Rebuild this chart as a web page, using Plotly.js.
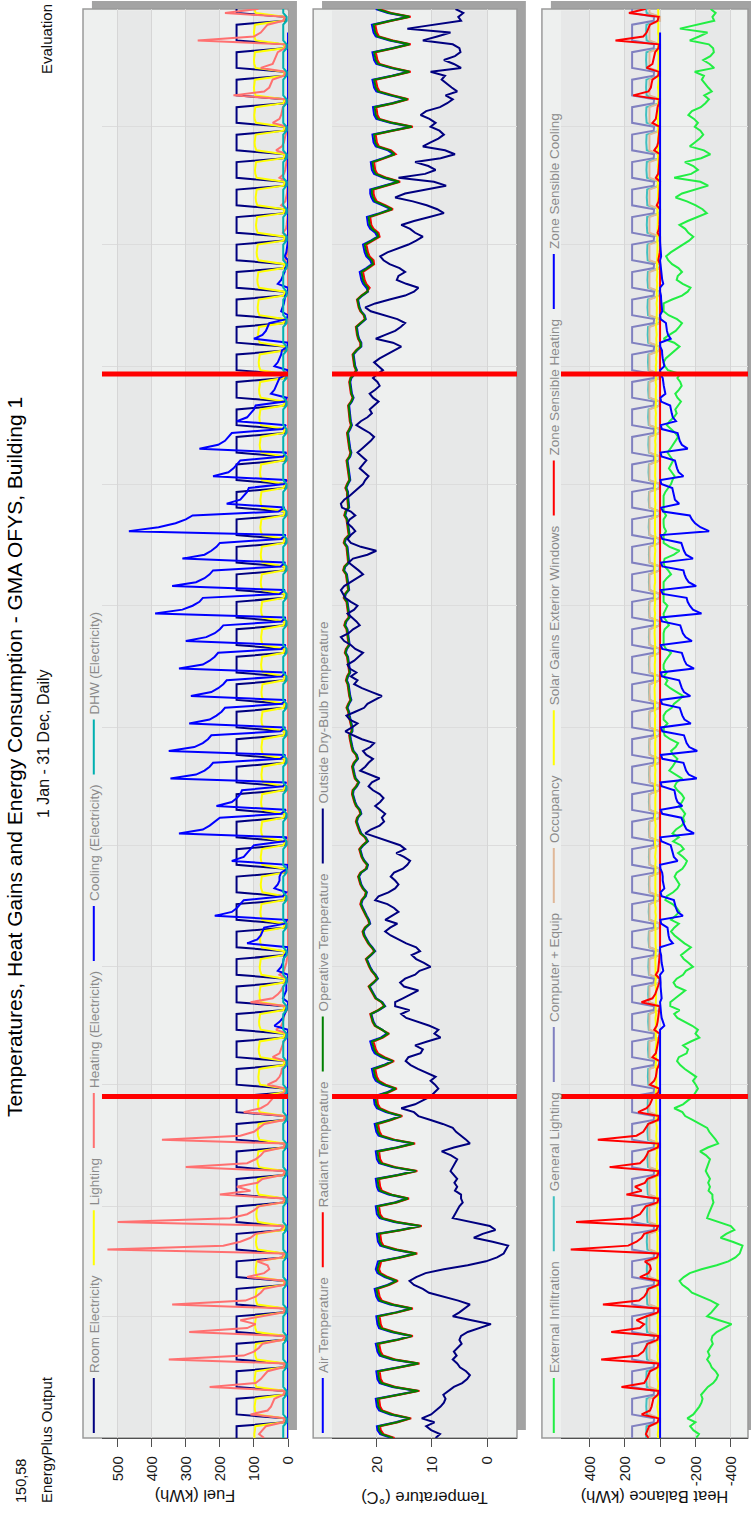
<!DOCTYPE html>
<html><head><meta charset="utf-8">
<script src="https://cdn.plot.ly/plotly-3.0.1.min.js"></script>
<style>
html,body{margin:0;padding:0;background:#fff;width:751px;height:1514px;overflow:hidden;}
#chart{position:absolute;left:0;top:0;width:1514px;height:751px;transform-origin:0 0;transform:translateY(1514px) rotate(-90deg);}
</style></head><body><div id="chart"></div>
<script>
const startDate='2002-01-01', endDate='2002-12-31', dayMs=86400000;
const markerDates=['2002-03-29','2002-09-29'];
const fuelTicks=[0,100,200,300,400,500];
const tempTicks=[0,10,20];
const heatTickVals=[-400,-200,0,200,400];
const heatTickText=['-400','-200','0','200','400'];

const roomElec=[151,151,151,151,10,10,
151,151,151,151,151,10,10,151,151,151,151,151,10,10,151,151,151,151,151,10,10,151,151,151,151,151,10,10,
151,151,151,151,151,10,10,151,151,151,151,151,10,10,151,151,151,151,151,10,10,151,151,151,151,151,10,10,
151,151,151,151,151,10,10,151,151,151,151,151,10,10,151,151,151,151,151,10,10,151,151,151,151,151,10,10,
151,151,151,151,151,10,10,151,151,151,151,151,10,10,151,151,151,151,151,10,10,151,151,151,151,151,10,10,
151,151,151,151,151,10,10,151,151,151,151,151,10,10,151,151,151,151,151,10,10,151,151,151,151,151,10,10,
151,151,151,151,151,10,10,151,151,151,151,151,10,10,151,151,151,151,151,10,10,151,151,151,151,151,10,10,
151,151,151,151,151,10,10,151,151,151,151,151,10,10,151,151,151,151,151,10,10,151,151,151,151,151,10,10,
151,151,151,151,151,10,10,151,151,151,151,151,10,10,151,151,151,151,151,10,10,151,151,151,151,151,10,10,
151,151,151,151,151,10,10,151,151,151,151,151,10,10,151,151,151,151,151,10,10,151,151,151,151,151,10,10,
151,151,151,151,151,10,10,151,151,151,151,151,10,10,151,151,151,151,151,10,10,151,151,151,151,151,10,10,
151,151,151,151,151,10,10,151,151,151,151,151,10,10,151,151,151,151,151,10,10,151,151,151,151,151,10,10,
151,151,151,151,151,10,10,151,151,151,151,151,10,10,151,151,151,151,151,10,10,151,151,151,151,151,10,10,
151,151,151,151,151,10,10,151,151,151,151,151,10,10,151,151,151,151,151,10,10,
151,151];
const lighting=[98,99,97,96,13,10,
93,97,98,96,95,13,10,93,97,98,96,95,13,10,92,96,97,95,94,13,10,92,96,97,95,94,13,10,
90,94,95,93,92,13,10,90,94,95,93,92,13,10,89,93,94,92,91,13,10,88,92,93,91,90,13,10,
86,90,91,89,88,13,10,85,89,90,88,87,13,10,84,88,89,87,86,13,10,83,87,88,86,85,13,10,
82,86,87,85,84,13,10,81,85,86,84,83,13,10,80,84,85,83,82,13,10,79,83,84,82,81,13,10,
78,82,83,81,80,13,10,77,81,82,80,79,13,10,76,80,81,79,78,13,10,75,79,80,78,77,13,10,
75,79,80,78,77,13,10,74,78,79,77,76,13,10,74,78,79,77,76,13,10,73,77,78,76,75,13,10,
73,77,78,76,75,13,10,73,77,78,76,75,13,10,73,77,78,76,75,13,10,74,78,79,77,76,13,10,
74,78,79,77,76,13,10,74,78,79,77,76,13,10,75,79,80,78,77,13,10,75,79,80,78,77,13,10,
76,80,81,79,78,13,10,76,80,81,79,78,13,10,77,81,82,80,79,13,10,78,82,83,81,80,13,10,
79,83,84,82,81,13,10,80,84,85,83,82,13,10,81,85,86,84,83,13,10,83,87,88,86,85,13,10,
84,88,89,87,86,13,10,85,89,90,88,87,13,10,87,91,92,90,89,13,10,89,93,94,92,91,13,10,
90,94,95,93,92,13,10,92,96,97,95,94,13,10,93,97,98,96,95,13,10,94,98,99,97,96,13,10,
95,99,100,98,97,13,10,95,99,100,98,97,13,10,95,99,100,98,97,13,10,
95,99];
const heating=[70,85,75,65,15,8,
110,60,50,45,40,14,8,230,95,80,70,60,15,9,350,130,100,85,75,16,9,290,120,95,140,80,14,8,
340,125,95,80,70,12,6,120,70,55,60,90,18,10,530,190,140,110,95,22,12,500,170,120,100,85,16,9,
200,110,150,90,75,15,8,300,120,95,80,70,14,8,370,140,100,85,70,13,7,130,80,60,50,40,10,6,
60,35,25,20,18,6,3,45,25,20,15,12,4,2,35,20,15,12,10,3,2,110,45,30,20,15,4,2,
25,12,8,5,3,0,0,0,0,0,0,0,0,0,0,0,0,0,0,0,0,0,0,0,0,0,0,0,0,0,0,0,0,0,0,
0,0,0,0,0,0,0,0,0,0,0,0,0,0,0,0,0,0,0,0,0,0,0,0,0,0,0,0,0,0,0,0,0,0,0,
0,0,0,0,0,0,0,0,0,0,0,0,0,0,0,0,0,0,0,0,0,0,0,0,0,0,0,0,0,0,0,0,0,0,0,
0,0,0,0,0,0,0,0,0,0,0,0,0,0,0,0,0,0,0,0,0,0,0,0,0,0,0,0,0,0,0,0,0,0,0,
0,0,0,0,0,0,0,0,0,0,0,0,0,0,0,0,0,0,0,0,0,0,0,0,0,0,0,0,0,0,0,0,0,0,0,
0,0,0,0,0,0,0,10,4,2,0,0,0,0,15,6,4,2,0,0,0,20,8,5,3,2,0,0,
25,12,8,6,5,2,1,35,18,12,10,8,4,2,45,25,20,18,15,6,3,160,70,55,50,45,12,6,
80,45,40,35,30,10,5,265,100,80,70,60,15,8,185,90,70,65,55,14,8,275,105,85,75,65,16,9,
260,100,85,75,65,15,9,245,95,80,70,60,15,9,
200,85];
const cooling=[0,0,0,0,0,0,
0,0,0,0,0,0,0,0,0,0,0,0,0,0,0,0,0,0,0,0,0,0,0,0,0,0,0,0,0,
0,0,0,0,0,0,0,0,0,0,0,0,0,0,0,0,0,0,0,0,0,0,0,0,0,0,0,0,0,0,0,0,0,0,0,
0,0,0,0,0,0,0,0,0,0,0,0,0,0,0,0,0,0,0,0,0,0,0,0,0,0,0,0,0,0,0,0,0,0,0,
40,25,15,10,5,0,0,15,10,5,5,5,0,0,30,20,15,12,10,0,0,120,90,80,75,70,10,3,
215,165,150,140,130,15,5,40,30,25,25,20,3,0,165,130,120,110,100,12,4,320,250,230,215,200,20,6,
210,165,150,140,135,15,5,345,270,245,230,220,22,8,350,275,250,235,225,22,8,290,230,210,195,185,18,7,
285,225,205,190,180,18,7,320,250,230,215,205,20,7,300,240,215,200,190,19,7,390,310,280,260,250,25,9,
340,270,245,230,220,22,8,310,245,225,210,200,20,7,467,380,330,300,280,28,10,180,140,130,120,115,12,4,
220,175,160,150,140,14,5,260,205,185,175,165,16,6,150,120,110,100,95,10,4,50,40,35,30,25,3,0,
40,30,25,20,18,2,0,100,75,65,60,55,5,0,20,15,12,10,8,0,0,30,20,15,10,8,0,0,
10,5,3,2,0,0,0,0,0,0,0,0,0,0,0,0,0,0,0,0,0,0,0,0,0,0,0,0,0,0,0,0,0,0,0,
0,0,0,0,0,0,0,0,0,0,0,0,0,0,0,0,0,0,0,0,0,
0,0];
const dhw=[14,14,14,14,4,4,
14,14,14,14,14,4,4,14,14,14,14,14,4,4,14,14,14,14,14,4,4,14,14,14,14,14,4,4,
14,14,14,14,14,4,4,14,14,14,14,14,4,4,14,14,14,14,14,4,4,14,14,14,14,14,4,4,
14,14,14,14,14,4,4,14,14,14,14,14,4,4,14,14,14,14,14,4,4,14,14,14,14,14,4,4,
14,14,14,14,14,4,4,14,14,14,14,14,4,4,14,14,14,14,14,4,4,14,14,14,14,14,4,4,
14,14,14,14,14,4,4,14,14,14,14,14,4,4,14,14,14,14,14,4,4,14,14,14,14,14,4,4,
14,14,14,14,14,4,4,14,14,14,14,14,4,4,14,14,14,14,14,4,4,14,14,14,14,14,4,4,
14,14,14,14,14,4,4,14,14,14,14,14,4,4,14,14,14,14,14,4,4,14,14,14,14,14,4,4,
14,14,14,14,14,4,4,14,14,14,14,14,4,4,14,14,14,14,14,4,4,14,14,14,14,14,4,4,
14,14,14,14,14,4,4,14,14,14,14,14,4,4,14,14,14,14,14,4,4,14,14,14,14,14,4,4,
14,14,14,14,14,4,4,14,14,14,14,14,4,4,14,14,14,14,14,4,4,14,14,14,14,14,4,4,
14,14,14,14,14,4,4,14,14,14,14,14,4,4,14,14,14,14,14,4,4,14,14,14,14,14,4,4,
14,14,14,14,14,4,4,14,14,14,14,14,4,4,14,14,14,14,14,4,4,14,14,14,14,14,4,4,
14,14,14,14,14,4,4,14,14,14,14,14,4,4,14,14,14,14,14,4,4,
14,14];

const airTemp=[17.3,19.3,19.8,19.9,16.5,14.1,
17.5,19.5,19.9,20.0,20.1,16.2,12.6,17.1,19.4,19.8,19.9,20.0,16.0,12.6,17.2,19.4,19.8,20.0,20.1,16.4,13.8,17.3,19.5,19.8,19.9,20.0,16.5,13.8,
17.5,19.6,20.0,20.2,20.3,18.0,16.5,18.5,19.8,20.1,19.9,19.7,16.0,13.0,16.9,19.3,19.7,19.8,19.9,15.7,12.2,16.8,19.4,19.9,20.0,20.1,16.7,14.5,
17.8,19.6,19.9,20.0,20.1,16.2,13.0,17.1,19.5,19.9,20.0,20.1,16.4,13.4,17.3,19.6,20.0,20.2,20.3,17.7,15.7,18.3,19.9,20.3,20.4,20.5,18.2,16.7,
18.9,20.1,20.5,20.7,20.8,18.7,17.2,19.1,20.3,20.7,20.9,21.1,19.2,18.1,18.9,20.1,20.5,20.7,20.9,19.5,18.4,18.9,20.0,20.4,20.8,21.2,20.4,19.7,
20.1,20.7,21.1,21.4,21.7,20.9,20.2,20.7,21.3,21.7,22.1,22.3,21.9,21.1,21.3,21.7,22.1,22.4,22.7,22.5,21.9,21.7,22.3,22.7,22.9,23.1,22.7,21.7,
21.5,22.1,22.5,22.7,22.9,22.3,21.5,21.9,22.7,23.0,23.3,23.5,23.3,22.7,22.9,23.5,23.8,24.0,24.2,24.1,23.5,23.1,23.7,23.9,24.1,24.2,23.9,23.3,
23.5,24.1,24.3,24.5,24.6,24.7,24.3,24.3,24.5,24.7,24.8,24.9,25.2,24.9,24.5,24.7,24.8,24.9,25.0,25.3,25.1,24.7,24.8,24.9,25.0,25.1,25.5,25.3,
24.8,24.9,25.0,25.1,25.2,25.6,25.4,24.8,24.9,25.0,25.1,25.2,25.7,25.5,24.9,25.0,25.1,25.2,25.3,25.8,25.6,24.9,25.0,25.1,25.1,25.2,25.7,25.5,
24.8,24.9,25.0,25.1,25.2,25.6,25.4,24.9,25.0,25.0,25.1,25.1,25.4,25.1,24.7,24.8,24.9,24.9,25.0,25.2,24.7,24.5,24.7,24.8,24.9,24.9,25.1,24.7,
24.4,24.6,24.7,24.8,24.9,24.9,24.4,24.1,24.4,24.5,24.6,24.7,24.5,23.9,23.5,23.8,23.9,24.0,24.1,23.5,22.7,22.7,23.1,23.3,23.4,23.5,22.7,21.9,
22.1,22.7,23.0,23.2,23.3,22.5,21.5,21.8,22.4,22.7,22.9,23.0,21.8,20.8,21.1,21.8,22.1,22.3,22.4,21.0,19.8,20.2,21.1,21.5,21.6,21.7,19.4,17.4,
18.9,20.5,20.9,21.1,21.1,18.4,16.1,18.7,20.4,20.8,20.9,21.0,18.8,16.9,17.9,20.1,20.5,20.6,20.7,17.4,13.8,17.5,20.0,20.4,20.5,20.6,17.2,14.6,
17.5,20.0,20.4,20.6,20.7,17.2,14.2,17.5,20.0,20.4,20.6,20.7,17.2,14.2,17.6,20.1,20.5,20.7,20.8,17.6,14.2,
17.9,20.1];
const radTemp=[16.7,18.7,19.2,19.3,16.1,13.7,
16.9,18.9,19.3,19.4,19.5,15.8,12.2,16.5,18.8,19.2,19.3,19.4,15.6,12.2,16.6,18.8,19.2,19.4,19.5,16.0,13.4,16.7,18.9,19.2,19.3,19.4,16.1,13.4,
16.9,19.0,19.4,19.6,19.7,17.6,16.1,17.9,19.2,19.5,19.3,19.1,15.6,12.6,16.3,18.7,19.1,19.2,19.3,15.3,11.8,16.2,18.8,19.3,19.4,19.5,16.3,14.1,
17.2,19.0,19.3,19.4,19.5,15.8,12.6,16.5,18.9,19.3,19.4,19.5,16.0,13.0,16.7,19.0,19.4,19.6,19.7,17.3,15.3,17.7,19.3,19.7,19.8,19.9,17.8,16.3,
18.3,19.5,19.9,20.1,20.2,18.3,16.8,18.5,19.7,20.1,20.3,20.5,18.8,17.7,19.1,20.3,20.7,20.9,21.1,19.7,18.6,19.1,20.2,20.6,21.0,21.4,20.6,19.9,
20.3,20.9,21.3,21.6,21.9,21.1,20.4,20.9,21.5,21.9,22.3,22.5,22.1,21.3,21.5,21.9,22.3,22.6,22.9,22.7,22.1,21.9,22.5,22.9,23.1,23.3,22.9,21.9,
21.7,22.3,22.7,22.9,23.1,22.5,21.7,22.1,22.9,23.2,23.5,23.7,23.5,22.9,23.1,23.7,24.0,24.2,24.4,24.3,23.7,23.3,23.9,24.1,24.3,24.4,24.1,23.5,
23.7,24.3,24.5,24.7,24.8,24.9,24.5,24.5,24.7,24.9,25.0,25.1,25.4,25.1,24.7,24.9,25.0,25.1,25.2,25.5,25.3,24.9,25.0,25.1,25.2,25.3,25.7,25.5,
25.0,25.1,25.2,25.3,25.4,25.8,25.6,25.0,25.1,25.2,25.3,25.4,25.9,25.7,25.1,25.2,25.3,25.4,25.5,26.0,25.8,25.1,25.2,25.3,25.3,25.4,25.9,25.7,
25.0,25.1,25.2,25.3,25.4,25.8,25.6,25.1,25.2,25.2,25.3,25.3,25.6,25.3,24.9,25.0,25.1,25.1,25.2,25.4,24.9,24.7,24.9,25.0,25.1,25.1,25.3,24.9,
24.6,24.8,24.9,25.0,25.1,25.1,24.6,24.3,24.6,24.7,24.8,24.9,24.7,24.1,23.7,24.0,24.1,24.2,24.3,23.7,22.9,22.9,23.3,23.5,23.6,23.7,22.9,22.1,
22.3,22.9,23.2,23.4,23.5,22.7,21.7,21.2,21.8,22.1,22.3,22.4,21.4,20.4,20.5,21.2,21.5,21.7,21.8,20.6,19.4,19.6,20.5,20.9,21.0,21.1,19.0,17.0,
18.3,19.9,20.3,20.5,20.5,18.0,15.7,18.1,19.8,20.2,20.3,20.4,18.4,16.5,17.3,19.5,19.9,20.0,20.1,17.0,13.4,16.9,19.4,19.8,19.9,20.0,16.8,14.2,
16.9,19.4,19.8,20.0,20.1,16.8,13.8,16.9,19.4,19.8,20.0,20.1,16.8,13.8,17.0,19.5,19.9,20.1,20.2,17.2,13.8,
17.3,19.5];
const opTemp=[17.0,19.0,19.5,19.6,16.3,13.9,
17.2,19.2,19.6,19.7,19.8,16.0,12.4,16.8,19.1,19.5,19.6,19.7,15.8,12.4,16.9,19.1,19.5,19.7,19.8,16.2,13.6,17.0,19.2,19.5,19.6,19.7,16.3,13.6,
17.2,19.3,19.7,19.9,20.0,17.8,16.3,18.2,19.5,19.8,19.6,19.4,15.8,12.8,16.6,19.0,19.4,19.5,19.6,15.5,12.0,16.5,19.1,19.6,19.7,19.8,16.5,14.3,
17.5,19.3,19.6,19.7,19.8,16.0,12.8,16.8,19.2,19.6,19.7,19.8,16.2,13.2,17.0,19.3,19.7,19.9,20.0,17.5,15.5,18.0,19.6,20.0,20.1,20.2,18.0,16.5,
18.6,19.8,20.2,20.4,20.5,18.5,17.0,18.8,20.0,20.4,20.6,20.8,19.0,17.9,19.0,20.2,20.6,20.8,21.0,19.6,18.5,19.0,20.1,20.5,20.9,21.3,20.5,19.8,
20.2,20.8,21.2,21.5,21.8,21.0,20.3,20.8,21.4,21.8,22.2,22.4,22.0,21.2,21.4,21.8,22.2,22.5,22.8,22.6,22.0,21.8,22.4,22.8,23.0,23.2,22.8,21.8,
21.6,22.2,22.6,22.8,23.0,22.4,21.6,22.0,22.8,23.1,23.4,23.6,23.4,22.8,23.0,23.6,23.9,24.1,24.3,24.2,23.6,23.2,23.8,24.0,24.2,24.3,24.0,23.4,
23.6,24.2,24.4,24.6,24.7,24.8,24.4,24.4,24.6,24.8,24.9,25.0,25.3,25.0,24.6,24.8,24.9,25.0,25.1,25.4,25.2,24.8,24.9,25.0,25.1,25.2,25.6,25.4,
24.9,25.0,25.1,25.2,25.3,25.7,25.5,24.9,25.0,25.1,25.2,25.3,25.8,25.6,25.0,25.1,25.2,25.3,25.4,25.9,25.7,25.0,25.1,25.2,25.2,25.3,25.8,25.6,
24.9,25.0,25.1,25.2,25.3,25.7,25.5,25.0,25.1,25.1,25.2,25.2,25.5,25.2,24.8,24.9,25.0,25.0,25.1,25.3,24.8,24.6,24.8,24.9,25.0,25.0,25.2,24.8,
24.5,24.7,24.8,24.9,25.0,25.0,24.5,24.2,24.5,24.6,24.7,24.8,24.6,24.0,23.6,23.9,24.0,24.1,24.2,23.6,22.8,22.8,23.2,23.4,23.5,23.6,22.8,22.0,
22.2,22.8,23.1,23.3,23.4,22.6,21.6,21.5,22.1,22.4,22.6,22.7,21.6,20.6,20.8,21.5,21.8,22.0,22.1,20.8,19.6,19.9,20.8,21.2,21.3,21.4,19.2,17.2,
18.6,20.2,20.6,20.8,20.8,18.2,15.9,18.4,20.1,20.5,20.6,20.7,18.6,16.7,17.6,19.8,20.2,20.3,20.4,17.2,13.6,17.2,19.7,20.1,20.2,20.3,17.0,14.4,
17.2,19.7,20.1,20.3,20.4,17.0,14.0,17.2,19.7,20.1,20.3,20.4,17.0,14.0,17.3,19.8,20.2,20.4,20.5,17.4,14.0,
17.6,19.8];
const outsideTemp=[9.3,8.5,10.1,11.0,9.5,11.8,
10.1,9.2,8.4,7.8,7.5,7.9,7.0,6.0,4.5,3.6,3.1,3.8,4.9,5.4,6.2,5.5,6.0,5.2,4.6,5.0,4.7,3.5,1.2,-0.7,2.8,6.2,5.0,4.1,
3.1,5.2,7.8,10.5,11.6,13.2,14.0,12.8,11.1,7.8,3.5,0.2,-1.8,-3.0,-3.4,-3.8,-1.0,2.4,0.8,-1.5,-0.5,2.6,6.2,5.8,5.4,5.0,4.4,4.7,
4.7,5.8,5.4,5.9,5.4,6.0,6.6,6.2,5.8,5.4,6.5,8.2,6.0,3.1,3.8,4.7,5.6,6.2,8.0,10.2,12.4,13.2,15.5,13.0,11.6,10.2,9.5,8.8,
9.4,10.2,9.3,11.0,12.5,13.8,14.7,14.2,12.0,11.6,13.0,10.8,8.4,9.5,8.8,10.4,12.4,14.6,15.5,14.0,16.6,16.6,15.2,13.8,12.4,15.0,15.7,14.8,
13.0,12.2,10.2,11.4,12.8,13.6,12.1,12.8,14.6,16.0,17.4,18.4,17.5,16.2,18.4,17.2,16.0,16.8,18.0,20.2,19.6,17.8,16.6,16.0,16.6,17.4,16.8,15.2,
14.4,13.9,15.0,16.4,14.8,15.7,17.8,20.2,22.0,21.0,19.4,18.6,19.0,18.4,19.2,20.2,19.3,18.7,19.4,20.6,21.4,20.8,19.4,21.2,22.9,22.0,21.4,20.6,
21.8,22.4,21.1,20.4,22.6,24.2,25.6,24.4,23.4,24.8,25.4,23.8,22.2,21.6,20.2,19.0,20.8,22.6,24.0,23.4,24.6,23.6,24.8,25.2,24.0,23.2,22.4,23.8,
24.6,25.8,26.4,25.0,24.2,23.0,23.6,24.4,25.2,24.0,23.4,24.6,25.6,26.0,26.4,25.8,24.6,23.6,22.4,23.2,24.2,25.0,24.2,21.6,20.0,22.8,24.6,25.2,
24.6,23.8,24.4,25.2,24.8,23.8,24.6,26.2,26.4,25.8,24.8,24.0,23.2,22.4,22.0,21.4,22.2,23.0,22.4,21.8,22.6,23.4,22.6,21.8,21.0,20.4,21.2,22.4,
23.6,22.8,21.6,20.8,21.2,20.4,19.6,20.6,21.2,20.2,19.4,19.8,20.6,19.8,18.8,19.6,20.4,19.4,18.0,16.8,15.5,17.0,20.1,18.4,16.6,15.6,14.8,16.2,
18.6,21.0,22.0,20.2,17.6,14.8,13.2,12.4,14.6,16.3,16.0,14.8,15.8,17.6,18.7,19.3,18.0,16.2,14.2,12.8,11.6,13.0,13.9,15.5,13.2,10.4,7.8,9.0,
10.9,13.4,16.6,14.8,11.2,7.4,9.6,16.0,11.2,9.3,10.6,13.0,8.4,5.8,7.6,11.6,10.2,8.8,7.8,8.6,10.2,9.3,10.4,12.0,11.0,8.5,7.2,6.2,
7.5,5.4,6.4,7.4,8.2,7.6,10.2,4.7,6.0,7.8,5.8,4.8,5.0,6.2,11.6,9.0,6.6,14.4,9.2,4.7,5.2,
4.3,5.7];

const infiltration=[-204,-220,-188,-170,-200,-154,
-188,-206,-222,-234,-240,-232,-250,-270,-300,-318,-328,-314,-292,-282,-266,-280,-270,-286,-298,-290,-296,-320,-366,-404,-334,-266,-290,-308,
-328,-286,-234,-180,-158,-126,-110,-134,-168,-234,-320,-386,-426,-450,-458,-466,-410,-342,-374,-420,-400,-338,-266,-274,-282,-290,-302,-296,
-296,-274,-282,-272,-282,-270,-258,-266,-274,-282,-260,-226,-270,-328,-314,-296,-278,-266,-230,-186,-142,-126,-80,-130,-158,-186,-200,-214,
-202,-186,-204,-170,-140,-114,-96,-106,-150,-158,-130,-174,-222,-200,-214,-182,-142,-98,-80,-110,-58,-58,-86,-114,-142,-90,-76,-94,
-130,-146,-186,-162,-134,-118,-148,-174,-138,-110,-82,-62,-80,-106,-62,-86,-110,-94,-70,-30,-38,-74,-98,-110,-98,-82,-94,-126,
-142,-152,-130,-102,-134,-116,-74,-106,-70,-90,-122,-138,-130,-142,-126,-106,-124,-136,-122,-98,-82,-94,-122,-86,-52,-70,-82,-98,
-74,-62,-88,-102,-58,-26,-20,-22,-42,-20,-20,-34,-66,-78,-106,-130,-94,-58,-30,-42,-20,-38,-20,-20,-30,-46,-62,-34,
-20,-20,-20,-20,-26,-50,-38,-22,-20,-30,-42,-20,-20,-20,-20,-20,-20,-38,-62,-46,-26,-20,-26,-78,-110,-54,-20,-20,
-20,-34,-22,-20,-20,-34,-20,-20,-20,-20,-20,-30,-46,-62,-70,-82,-66,-50,-62,-74,-58,-42,-58,-74,-90,-102,-86,-62,
-38,-54,-78,-94,-86,-102,-118,-98,-86,-106,-122,-114,-98,-114,-44,-28,-20,-32,-60,-84,-110,-80,-20,-52,-88,-108,-124,-96,
-48,-20,-20,-20,-68,-124,-156,-172,-128,-94,-100,-124,-104,-68,-46,-34,-60,-96,-136,-164,-188,-160,-142,-110,-156,-212,-264,-240,
-202,-152,-88,-124,-196,-272,-228,-80,-176,-214,-188,-140,-232,-284,-248,-168,-196,-224,-244,-228,-196,-214,-192,-160,-180,-230,-256,-276,
-250,-292,-272,-252,-236,-248,-196,-306,-280,-244,-284,-304,-300,-276,-168,-220,-268,-112,-216,-306,-296,
-314,-286];
const genLighting=[79,79,78,77,3,2,
75,78,78,77,76,3,2,75,78,78,77,76,3,2,74,77,77,76,75,3,2,74,77,77,76,75,3,2,
72,75,75,74,73,3,2,72,75,75,74,73,3,2,72,75,75,74,73,3,2,71,74,74,73,72,3,2,
69,72,72,71,70,3,2,68,71,71,70,69,3,2,68,71,71,70,69,3,2,67,70,70,69,68,3,2,
66,69,69,68,67,3,2,65,68,68,67,66,3,2,64,67,67,66,65,3,2,64,67,67,66,65,3,2,
63,66,66,65,64,3,2,62,65,65,64,63,3,2,61,64,64,63,62,3,2,60,63,63,62,61,3,2,
60,63,63,62,61,3,2,60,63,63,62,61,3,2,60,63,63,62,61,3,2,59,62,62,61,60,3,2,
59,62,62,61,60,3,2,59,62,62,61,60,3,2,59,62,62,61,60,3,2,60,63,63,62,61,3,2,
60,63,63,62,61,3,2,60,63,63,62,61,3,2,60,63,63,62,61,3,2,60,63,63,62,61,3,2,
61,64,64,63,62,3,2,61,64,64,63,62,3,2,62,65,65,64,63,3,2,63,66,66,65,64,3,2,
64,67,67,66,65,3,2,64,67,67,66,65,3,2,65,68,68,67,66,3,2,67,70,70,69,68,3,2,
68,71,71,70,69,3,2,68,71,71,70,69,3,2,70,73,73,72,71,3,2,72,75,75,74,73,3,2,
72,75,75,74,73,3,2,74,77,77,76,75,3,2,75,78,78,77,76,3,2,76,79,79,78,77,3,2,
76,79,79,78,77,3,2,76,79,79,78,77,3,2,76,79,79,78,77,3,2,
76,79];
const compEquip=[158,158,158,158,36,34,
158,158,158,158,158,36,34,158,158,158,158,158,36,34,158,158,158,158,158,36,34,158,158,158,158,158,36,34,
158,158,158,158,158,36,34,158,158,158,158,158,36,34,158,158,158,158,158,36,34,158,158,158,158,158,36,34,
158,158,158,158,158,36,34,158,158,158,158,158,36,34,158,158,158,158,158,36,34,158,158,158,158,158,36,34,
158,158,158,158,158,36,34,158,158,158,158,158,36,34,158,158,158,158,158,36,34,158,158,158,158,158,36,34,
158,158,158,158,158,36,34,158,158,158,158,158,36,34,158,158,158,158,158,36,34,158,158,158,158,158,36,34,
158,158,158,158,158,36,34,158,158,158,158,158,36,34,158,158,158,158,158,36,34,158,158,158,158,158,36,34,
158,158,158,158,158,36,34,158,158,158,158,158,36,34,158,158,158,158,158,36,34,158,158,158,158,158,36,34,
158,158,158,158,158,36,34,158,158,158,158,158,36,34,158,158,158,158,158,36,34,158,158,158,158,158,36,34,
158,158,158,158,158,36,34,158,158,158,158,158,36,34,158,158,158,158,158,36,34,158,158,158,158,158,36,34,
158,158,158,158,158,36,34,158,158,158,158,158,36,34,158,158,158,158,158,36,34,158,158,158,158,158,36,34,
158,158,158,158,158,36,34,158,158,158,158,158,36,34,158,158,158,158,158,36,34,158,158,158,158,158,36,34,
158,158,158,158,158,36,34,158,158,158,158,158,36,34,158,158,158,158,158,36,34,158,158,158,158,158,36,34,
158,158,158,158,158,36,34,158,158,158,158,158,36,34,158,158,158,158,158,36,34,
158,158];
const occupancy=[60,60,60,60,0,0,
60,60,60,60,60,0,0,60,60,60,60,60,0,0,60,60,60,60,60,0,0,60,60,60,60,60,0,0,
60,60,60,60,60,0,0,60,60,60,60,60,0,0,60,60,60,60,60,0,0,60,60,60,60,60,0,0,
60,60,60,60,60,0,0,60,60,60,60,60,0,0,60,60,60,60,60,0,0,60,60,60,60,60,0,0,
60,60,60,60,60,0,0,60,60,60,60,60,0,0,60,60,60,60,60,0,0,60,60,60,60,60,0,0,
60,60,60,60,60,0,0,60,60,60,60,60,0,0,60,60,60,60,60,0,0,60,60,60,60,60,0,0,
60,60,60,60,60,0,0,60,60,60,60,60,0,0,60,60,60,60,60,0,0,60,60,60,60,60,0,0,
60,60,60,60,60,0,0,60,60,60,60,60,0,0,60,60,60,60,60,0,0,60,60,60,60,60,0,0,
60,60,60,60,60,0,0,60,60,60,60,60,0,0,60,60,60,60,60,0,0,60,60,60,60,60,0,0,
60,60,60,60,60,0,0,60,60,60,60,60,0,0,60,60,60,60,60,0,0,60,60,60,60,60,0,0,
60,60,60,60,60,0,0,60,60,60,60,60,0,0,60,60,60,60,60,0,0,60,60,60,60,60,0,0,
60,60,60,60,60,0,0,60,60,60,60,60,0,0,60,60,60,60,60,0,0,60,60,60,60,60,0,0,
60,60,60,60,60,0,0,60,60,60,60,60,0,0,60,60,60,60,60,0,0,60,60,60,60,60,0,0,
60,60,60,60,60,0,0,60,60,60,60,60,0,0,60,60,60,60,60,0,0,
60,60];
const solarGains=[11,13,10,12,14,12,
10,13,15,12,9,11,14,12,10,14,16,13,11,10,13,15,12,10,14,16,12,11,14,13,15,12,10,13,
14,16,13,12,15,17,14,15,13,17,16,14,12,15,16,18,15,14,17,19,16,17,15,18,20,16,14,17,
18,20,17,19,21,18,16,19,17,21,20,18,22,19,20,22,19,18,21,23,20,21,19,23,22,20,24,21,
22,24,21,20,23,25,22,21,23,25,22,20,24,23,23,21,24,26,22,25,24,24,26,23,22,25,27,24,
25,23,26,24,27,25,23,24,26,25,27,24,26,28,26,24,27,25,28,26,25,25,27,26,28,25,27,26,
27,25,28,26,24,27,29,26,28,27,25,28,30,27,28,26,29,27,25,28,30,27,29,28,26,29,27,28,
29,27,30,28,26,29,31,28,30,29,27,30,28,29,30,28,29,31,28,30,29,29,31,30,28,29,31,30,
28,30,29,31,30,28,29,30,28,31,29,28,30,31,29,31,28,30,29,31,30,28,30,29,27,30,28,29,
27,29,28,30,27,29,28,28,26,29,27,28,30,27,26,28,27,25,28,26,27,25,27,26,28,25,27,26,
24,26,25,23,26,24,25,23,25,24,22,25,23,24,22,24,21,23,20,22,21,20,22,19,21,23,20,19,
19,21,18,20,17,19,20,18,16,19,17,15,18,17,16,18,15,17,14,16,15,15,13,16,14,12,15,14,
13,15,12,14,11,13,12,12,14,11,13,10,12,11,11,13,10,12,9,11,12,10,12,9,11,13,10,9,
11,9,12,10,8,11,10,9,11,10,8,12,10,9,10,8,11,9,10,12,9,
10,11];
const sensHeating=[66,80,71,62,14,8,
104,57,48,43,38,13,8,218,90,76,66,57,14,9,333,124,95,81,71,15,9,276,114,90,133,76,13,8,
323,119,90,76,66,11,6,114,66,52,57,86,17,10,505,180,133,104,90,21,11,475,162,114,95,81,15,9,
190,104,142,86,71,14,8,285,114,90,76,66,13,8,352,133,95,81,66,12,7,124,76,57,48,38,10,6,
57,33,24,19,17,6,3,43,24,19,14,11,4,2,33,19,14,11,10,3,2,105,43,28,19,14,4,2,
24,11,8,5,3,0,0,0,0,0,0,0,0,0,0,0,0,0,0,0,0,0,0,0,0,0,0,0,0,0,0,0,0,0,0,
0,0,0,0,0,0,0,0,0,0,0,0,0,0,0,0,0,0,0,0,0,0,0,0,0,0,0,0,0,0,0,0,0,0,0,
0,0,0,0,0,0,0,0,0,0,0,0,0,0,0,0,0,0,0,0,0,0,0,0,0,0,0,0,0,0,0,0,0,0,0,
0,0,0,0,0,0,0,0,0,0,0,0,0,0,0,0,0,0,0,0,0,0,0,0,0,0,0,0,0,0,0,0,0,0,0,
0,0,0,0,0,0,0,0,0,0,0,0,0,0,0,0,0,0,0,0,0,0,0,0,0,0,0,0,0,0,0,0,0,0,0,
0,0,0,0,0,0,0,10,4,2,0,0,0,0,14,6,4,2,0,0,0,19,8,5,3,2,0,0,
24,11,8,6,5,2,1,33,17,11,10,8,4,2,43,24,19,17,14,6,3,152,66,52,48,43,11,6,
76,43,38,33,28,10,5,252,95,76,66,57,14,8,176,86,66,62,52,13,8,261,100,81,71,62,15,9,
247,95,81,71,62,14,9,233,90,76,66,57,14,9,
190,81];
const sensCooling=[0,0,0,0,0,0,
0,0,0,0,0,0,0,0,0,0,0,0,0,0,0,0,0,0,0,0,0,0,0,0,0,0,0,0,0,
0,0,0,0,0,0,0,0,0,0,0,0,0,0,0,0,0,0,0,0,0,0,0,0,0,0,0,0,0,0,0,0,0,0,0,
0,0,0,0,0,0,0,0,0,0,0,0,0,0,0,0,0,0,0,0,0,0,0,0,0,0,0,0,0,0,0,0,0,0,0,
-24,-15,-9,-6,-3,0,0,-9,-6,-3,-3,-3,0,0,-18,-12,-9,-7,-6,0,0,-72,-54,-48,-45,-42,-6,-2,
-129,-99,-90,-84,-78,-9,-3,-24,-18,-15,-15,-12,-2,0,-99,-78,-72,-66,-60,-7,-2,-192,-150,-138,-129,-120,-12,-4,
-126,-99,-90,-84,-81,-9,-3,-207,-162,-147,-138,-132,-13,-5,-210,-165,-150,-141,-135,-13,-5,-174,-138,-126,-117,-111,-11,-4,
-171,-135,-123,-114,-108,-11,-4,-192,-150,-138,-129,-123,-12,-4,-180,-144,-129,-120,-114,-11,-4,-234,-186,-168,-156,-150,-15,-5,
-204,-162,-147,-138,-132,-13,-5,-186,-147,-135,-126,-120,-12,-4,-277,-228,-198,-180,-168,-17,-6,-108,-84,-78,-72,-69,-7,-2,
-132,-105,-96,-90,-84,-8,-3,-156,-123,-111,-105,-99,-10,-4,-90,-72,-66,-60,-57,-6,-2,-30,-24,-21,-18,-15,-2,0,
-24,-18,-15,-12,-11,-1,0,-60,-45,-39,-36,-33,-3,0,-12,-9,-7,-6,-5,0,0,-18,-12,-9,-6,-5,0,0,
-6,-3,-2,-1,0,0,0,0,0,0,0,0,0,0,0,0,0,0,0,0,0,0,0,0,0,0,0,0,0,0,0,0,0,0,0,
0,0,0,0,0,0,0,0,0,0,0,0,0,0,0,0,0,0,0,0,0,
0,0];

function series(name,y,color,n,leg){
  return {type:'scatter',mode:'lines',name:name,x0:startDate,dx:dayMs,y:y,
    xaxis:'x'+(n>1?n:''),yaxis:'y'+(n>1?n:''),legend:leg,
    line:{color:color,width:2},hoverinfo:'skip'};
}
const data=[
  series('Room Electricity',roomElec,'#000080',1,'legend'),
  series('Lighting',lighting,'#ffff00',1,'legend'),
  series('Heating (Electricity)',heating,'#ff7070',1,'legend'),
  series('Cooling (Electricity)',cooling,'#0000ff',1,'legend'),
  series('DHW (Electricity)',dhw,'#00b0b0',1,'legend'),
  series('Air Temperature',airTemp,'#0000ff',2,'legend2'),
  series('Radiant Temperature',radTemp,'#ff0000',2,'legend2'),
  series('Operative Temperature',opTemp,'#008000',2,'legend2'),
  series('Outside Dry-Bulb Temperature',outsideTemp,'#000080',2,'legend2'),
  series('External Infiltration',infiltration,'#22ee44',3,'legend3'),
  series('General Lighting',genLighting,'#40c0c0',3,'legend3'),
  series('Computer + Equip',compEquip,'#8080c0',3,'legend3'),
  series('Occupancy',occupancy,'#e0b898',3,'legend3'),
  series('Solar Gains Exterior Windows',solarGains,'#ffff00',3,'legend3'),
  series('Zone Sensible Heating',sensHeating,'#ff0000',3,'legend3'),
  series('Zone Sensible Cooling',sensCooling,'#0000ff',3,'legend3')
];

const FONT='Liberation Sans, Arial, sans-serif';
function xAx(anchor){
  return {anchor:anchor,domain:[0,1],type:'date',range:[startDate,endDate],showticklabels:false,ticks:'',
    showgrid:true,gridcolor:'#dcdcdc',gridwidth:1,dtick:'M1',tick0:startDate,zeroline:false,showline:false};
}
function yAx(anchor,domain,range,title,standoff){
  return {anchor:anchor,domain:domain,range:range,showgrid:true,gridcolor:'#d6d6d6',zeroline:false,
    showline:true,linecolor:'#505050',linewidth:1.2,ticks:'outside',ticklen:8,tickcolor:'#505050',
    ticklabelstandoff:6,tickfont:{size:15,color:'#1a1a1a'},
    title:{text:title,font:{size:16.5,color:'#111'},standoff:standoff}};
}
function legendAt(y){
  return {orientation:'h',x:0,xanchor:'left',y:y,yanchor:'middle',bgcolor:'rgba(0,0,0,0)',
    font:{size:13.5,color:'#8a8a8a',family:FONT},itemwidth:55,traceorder:'normal'};
}
const layout={
  width:1514,height:751,margin:{l:76,r:9,t:0,b:0},
  paper_bgcolor:'#ffffff',plot_bgcolor:'rgba(0,0,0,0)',
  font:{family:FONT,color:'#111'},
  title:{text:'Temperatures, Heat Gains and Energy Consumption - GMA OFYS, Building 1',
    font:{size:21,color:'#000'},xref:'container',x:0.5,xanchor:'center',yref:'container',y:0.981,yanchor:'middle'},
  xaxis:xAx('y'),xaxis2:xAx('y2'),xaxis3:xAx('y3'),
  yaxis:Object.assign(yAx('x',[0.6165,0.8642],[0,546],'Fuel (kWh)',4),{tickvals:fuelTicks}),
  yaxis2:Object.assign(yAx('x2',[0.3116,0.5579],[-5.4,28],'Temperature (°C)',14),{tickvals:tempTicks}),
  yaxis3:Object.assign(yAx('x3',[0.004,0.253],[-497,560],'Heat Balance (kWh)',0),{tickvals:heatTickVals,ticktext:heatTickText}),
  showlegend:true,
  legend:legendAt(0.8748),legend2:legendAt(0.5699),legend3:legendAt(0.2623),
  shapes:[],
  annotations:[
    {text:'1 Jan - 31 Dec, Daily',xref:'paper',yref:'paper',x:0.4857,y:0.9427,xanchor:'center',yanchor:'middle',showarrow:false,font:{size:16,color:'#111'}},
    {text:'150,58',xref:'paper',yref:'paper',x:-0.0469,y:0.972,xanchor:'left',yanchor:'middle',showarrow:false,font:{size:14.5,color:'#111'}},
    {text:'EnergyPlus Output',xref:'paper',yref:'paper',x:-0.0469,y:0.9387,xanchor:'left',yanchor:'middle',showarrow:false,font:{size:15,color:'#111'}},
    {text:'Evaluation',xref:'paper',yref:'paper',x:1.0049,y:0.9387,xanchor:'right',yanchor:'middle',showarrow:false,font:{size:15,color:'#111'}}
  ]
};
// alternating shaded bands between value gridlines (panel background styling)
const panelBands=[
  [['x','y'],[[0,100],[200,300],[400,500]]],
  [['x2','y2'],[[0,10],[20,28]]],
  [['x3','y3'],[[-400,-200],[0,200],[400,560]]]
];
panelBands.forEach(function(pb){
  var p=pb[0];
  layout.shapes.push({type:'rect',xref:p[0]+' domain',yref:p[1]+' domain',x0:0.0056,x1:1.0056,y0:-0.048,y1:1.054,
    fillcolor:'#a3a3a3',line:{width:0},layer:'below'});
  layout.shapes.push({type:'rect',xref:p[0]+' domain',yref:p[1]+' domain',x0:0,x1:1,y0:0,y1:1.102,
    fillcolor:'#eef0ef',line:{color:'#9a9a9a',width:1.5},layer:'below'});
  pb[1].forEach(function(b){
    layout.shapes.push({type:'rect',xref:p[0]+' domain',yref:p[1],x0:0.001,x1:0.999,y0:b[0],y1:b[1],
      fillcolor:'#e7e8e8',line:{width:0},layer:'below'});
  });
  markerDates.forEach(function(d){
    layout.shapes.push({type:'line',xref:p[0],yref:p[1]+' domain',x0:d,x1:d,y0:0,y1:1,
      line:{color:'#ff0000',width:5},layer:'above'});
  });
});
Plotly.newPlot('chart',data,layout,{staticPlot:true,displayModeBar:false});
</script></body></html>
